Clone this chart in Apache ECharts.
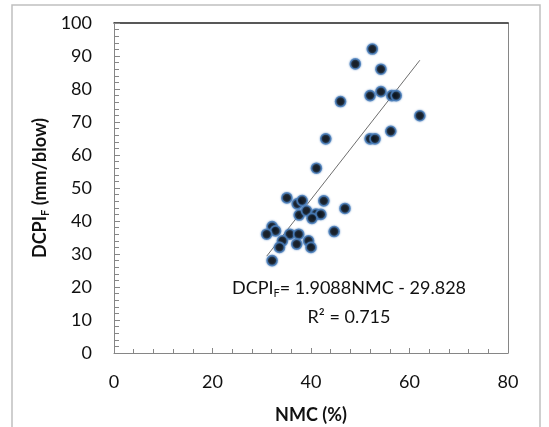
<!DOCTYPE html>
<html>
<head>
<meta charset="utf-8">
<script src="https://cdn.jsdelivr.net/npm/echarts@6/dist/echarts.min.js"></script>
<style>html,body{margin:0;padding:0;background:#fff;}#c{width:549px;height:427px;}</style>
</head>
<body>
<div id="c"></div>
<script>
var nmc = [52.45, 49.0, 54.2, 52.0, 54.2, 56.4, 57.3, 46.0, 62.1, 56.2, 52.0, 53.0, 43.0, 41.1,
  35.1, 37.2, 38.2, 42.6, 46.9, 37.6, 39.1, 41.0, 42.0, 40.2, 32.1, 32.8, 31.0, 35.7, 37.5,
  44.7, 34.2, 39.5, 33.6, 37.1, 40.0, 32.1];
var dcpi = [92.1, 87.6, 86.0, 78.0, 79.2, 78.0, 78.0, 76.2, 71.9, 67.2, 64.9, 64.9, 64.9, 56.0,
  47.0, 45.2, 46.2, 46.1, 43.8, 41.8, 43.1, 42.1, 42.0, 40.8, 38.3, 37.0, 36.0, 36.0, 36.0,
  36.8, 34.0, 34.0, 32.0, 33.0, 32.0, 28.0];
var trendSlope = 1.9088;
var trendIntercept = -29.828;
var rSquared = 0.715;
var xTicks = [0, 20, 40, 60, 80];
var yTicks = [0, 10, 20, 30, 40, 50, 60, 70, 80, 90, 100];

var points = nmc.map(function (x, i) { return [x, dcpi[i]]; });
var xMin = Math.min.apply(null, nmc), xMax = Math.max.apply(null, nmc);
var trend = [[xMin, trendSlope * xMin + trendIntercept], [xMax, trendSlope * xMax + trendIntercept]];

var FONT = 'Lato, "Liberation Sans", sans-serif';
var chart = echarts.init(document.getElementById('c'), null, {renderer: 'canvas'});
chart.setOption({
  animation: false,
  backgroundColor: '#fff',
  grid: {left: 114, right: 41, top: 23, bottom: 74, containLabel: false},
  xAxis: [{
    type: 'value', min: xTicks[0], max: xTicks[xTicks.length - 1], interval: 20,
    axisLine: {show: true, lineStyle: {color: '#868686', width: 1}},
    axisTick: {show: true, inside: true, length: 5, lineStyle: {color: '#868686'}},
    minorTick: {show: true, splitNumber: 5, length: 4, lineStyle: {color: '#868686'}},
    splitLine: {show: false},
    axisLabel: {fontSize: 18, color: '#111', fontFamily: FONT, margin: 20}
  }, {
    type: 'value', position: 'top', min: 0, max: 80,
    axisLine: {show: true, onZero: false, lineStyle: {color: '#222', width: 1.5}},
    axisTick: {show: false}, axisLabel: {show: false}, splitLine: {show: false}
  }],
  yAxis: [{
    type: 'value', min: yTicks[0], max: yTicks[yTicks.length - 1], interval: 10,
    axisLine: {show: true, lineStyle: {color: '#868686', width: 1}},
    axisTick: {show: true, inside: true, length: 6, lineStyle: {color: '#868686'}},
    minorTick: {show: true, splitNumber: 5, length: 5, lineStyle: {color: '#868686'}},
    splitLine: {show: false},
    axisLabel: {fontSize: 18, color: '#111', fontFamily: FONT, margin: 22}
  }, {
    type: 'value', position: 'right', min: 0, max: 100,
    axisLine: {show: true, onZero: false, lineStyle: {color: '#868686', width: 1}},
    axisTick: {show: false}, axisLabel: {show: false}, splitLine: {show: false}
  }],
  graphic: [
    {type: 'rect', silent: true, z: -10, shape: {x: 12, y: 5, width: 528, height: 430},
      style: {fill: 'none', stroke: '#c0c0c0', lineWidth: 1.5}},
    {type: 'text', x: 40, y: 188, rotation: Math.PI / 2, style: {
      text: '{a|DCPI}{s|F}{a| (mm/blow)}', align: 'center', verticalAlign: 'middle',
      rich: {
        a: {fontSize: 18, fontWeight: 'bold', fontFamily: FONT, fill: '#111', lineHeight: 22, verticalAlign: 'middle'},
        s: {fontSize: 11, fontWeight: 'bold', fontFamily: FONT, fill: '#111', lineHeight: 22, verticalAlign: 'bottom'}
      }}},
    {type: 'text', x: 311, y: 415, style: {
      text: 'NMC (%)', align: 'center', verticalAlign: 'middle',
      font: 'bold 18px ' + FONT, fill: '#111'}},
    {type: 'text', x: 349, y: 288, style: {
      text: '{a|DCPI}{s|F}{a|= ' + trendSlope + 'NMC - ' + Math.abs(trendIntercept) + '}',
      align: 'center', verticalAlign: 'middle',
      rich: {
        a: {fontSize: 18, fontFamily: FONT, fill: '#111', lineHeight: 22, verticalAlign: 'middle'},
        s: {fontSize: 11, fontFamily: FONT, fill: '#111', lineHeight: 22, verticalAlign: 'bottom'}
      }}},
    {type: 'text', x: 349, y: 317, style: {
      text: 'R\u00b2 = ' + rSquared, align: 'center', verticalAlign: 'middle',
      font: '18px ' + FONT, fill: '#111'}}
  ],
  series: [{
    type: 'line', data: trend, showSymbol: false, symbol: 'none', silent: true,
    lineStyle: {color: '#6e6e6e', width: 1}, z: 1
  }, {
    type: 'scatter', data: points, symbol: 'circle', symbolSize: 10, z: 2,
    itemStyle: {color: '#000', borderColor: '#4a7ebb', borderWidth: 1.6,
      shadowBlur: 2, shadowColor: 'rgba(74,126,187,0.9)'}
  }]
});
</script>
</body>
</html>
